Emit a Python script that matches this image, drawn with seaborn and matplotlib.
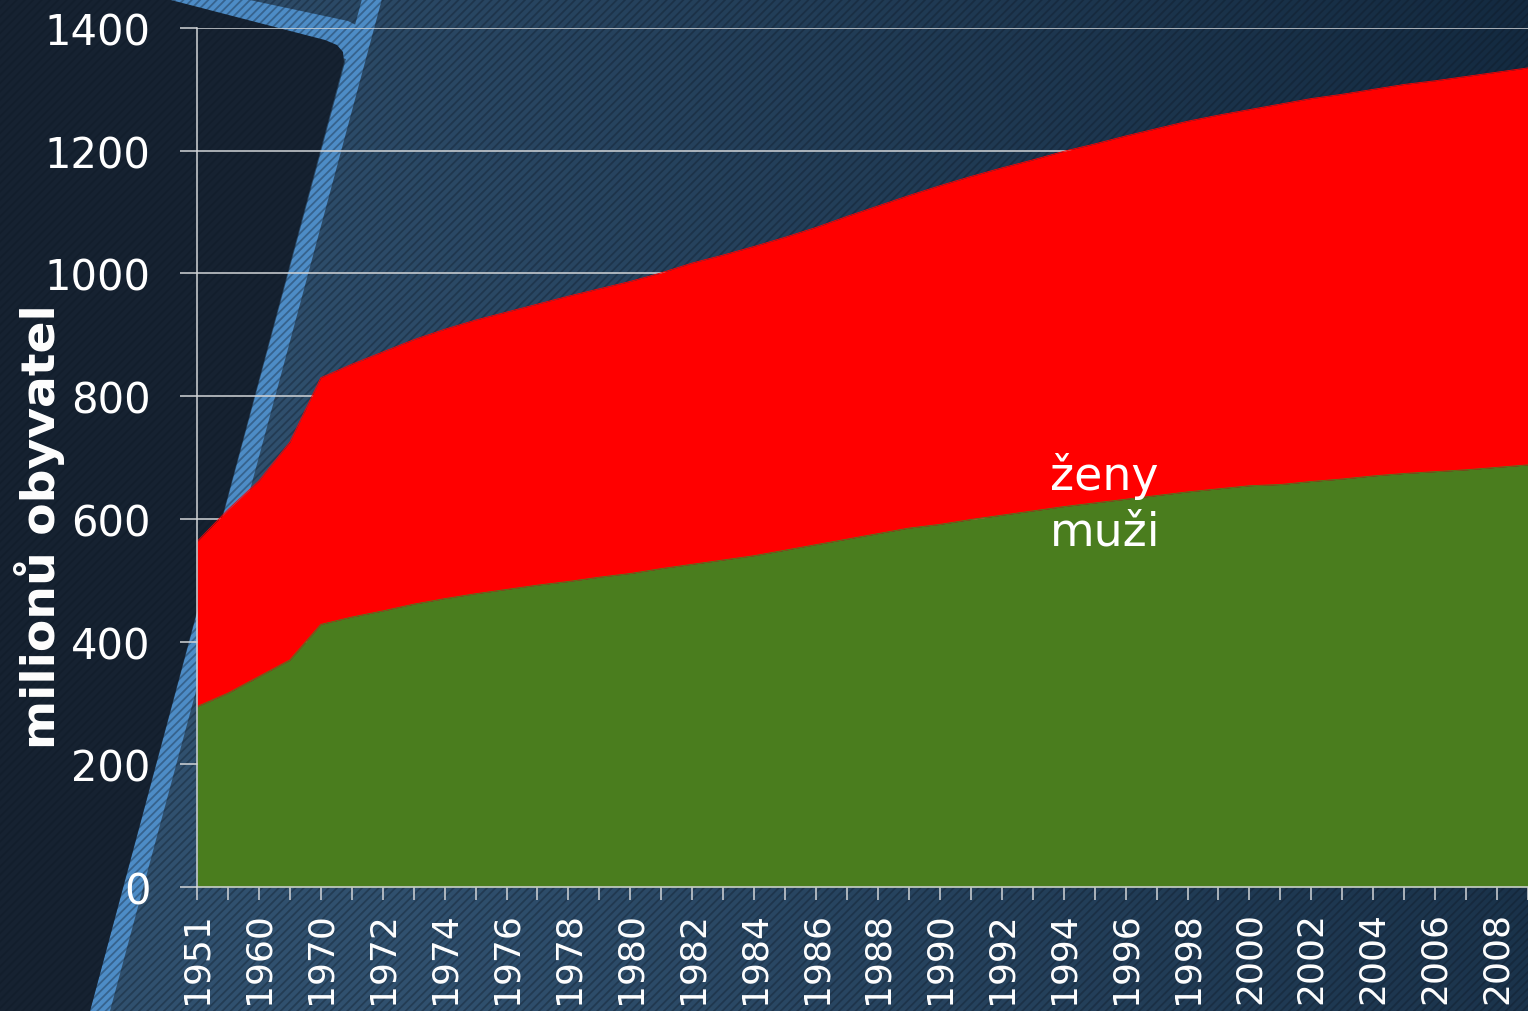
import numpy as np
import pandas as pd
import matplotlib
matplotlib.use("Agg")
import matplotlib.pyplot as plt
import matplotlib.colors as mcolors
from matplotlib.patches import Polygon, Rectangle
import seaborn as sns

# ---------------- data ----------------
years = ["1951", "1955", "1960", "1965"] + [str(y) for y in range(1970, 2010)]
male = [294, 316, 343, 370,
        428, 440, 450, 461, 470, 478, 485, 492, 498, 505,
        511, 519, 526, 533, 540, 549, 558, 567, 576, 585,
        591, 599, 606, 613, 620, 626, 632, 638, 644, 649,
        654, 656, 661, 665, 670, 674, 677, 680, 684, 688]
female = [269, 299, 319, 355,
          402, 412, 422, 431, 439, 446, 452, 458, 465, 470,
          476, 482, 491, 497, 504, 510, 517, 526, 534, 542,
          552, 559, 566, 572, 579, 585, 592, 598, 604, 609,
          613, 620, 624, 627, 630, 634, 637, 641, 644, 647]
y_ticks = [0, 200, 400, 600, 800, 1000, 1200, 1400]
series_names = ["muži", "ženy"]
y_title = "milionů obyvatel"

# ---------------- style ----------------
sns.set_style("white")
plt.rcParams['font.family'] = ['DejaVu Sans']
plt.rcParams['hatch.linewidth'] = 1.3

W, H = 1528, 1012
fig = plt.figure(figsize=(W / 100, H / 100), dpi=100)

# background decoration
bg = fig.add_axes([0, 0, 1, 1], zorder=0)
bg.set_xlim(0, W)
bg.set_ylim(H, 0)
bg.axis('off')
gx = np.linspace(0, 1, 400)
gy = np.linspace(0, 1, 300)
GX, GY = np.meshgrid(gx, gy)
t = np.clip(0.8 * (GX - 0.25) / 0.75 + 0.25 * (1 - GY) - 0.05, 0, 1)
c0 = np.array(mcolors.to_rgb("#30506e"))
c1 = np.array(mcolors.to_rgb("#142a40"))
img = c0[None, None, :] * (1 - t[..., None]) + c1[None, None, :] * t[..., None]
bg.imshow(img, extent=[0, W, H, 0], aspect='auto', zorder=0)

band_col = "#4d8cc6"
bg.add_patch(Polygon([(362, 0), (382, 0), (110, H), (90, H)], closed=True,
                     facecolor=band_col, edgecolor='none', zorder=1))
bg.add_patch(Polygon([(160, 0), (245, 0), (348, 22), (360, 28), (352, 62)], closed=True,
                     facecolor=band_col, edgecolor='none', zorder=1))
bg.add_patch(Polygon([(0, 0), (167, 0), (325, 41), (337, 46), (343, 53), (344, 63),
                      (90, H), (0, H)], closed=True,
                     facecolor="#162231", edgecolor='none', zorder=2))
bg.add_patch(Rectangle((0, 0), W, H, facecolor='none',
                       edgecolor=(0.05, 0.09, 0.14, 0.35), linewidth=0,
                       hatch='////', zorder=3))

# ---------------- main chart ----------------
ax = fig.add_axes([197 / W, (H - 888) / H, (W - 197) / W, (888 - 29) / H], zorder=1)
ax.set_facecolor('none')

x = np.arange(len(years))
total = np.array(male) + np.array(female)
df = pd.DataFrame({"x": x, "male": male, "total": total})

green = "#4a7d1e"
red = "#ff0000"
ax.fill_between(x, 0, male, color=green, linewidth=0, zorder=2)
ax.fill_between(x, male, total, color=red, linewidth=0, zorder=2)
sns.lineplot(data=df, x="x", y="male", color=green, linewidth=0.6, ax=ax, zorder=2.1)
sns.lineplot(data=df, x="x", y="total", color=red, linewidth=0.6, ax=ax, zorder=2.1)

ax.set_xlim(0, len(years) - 1)
ax.set_ylim(0, 1400)
ax.set_yticks(y_ticks)
ax.set_yticklabels([str(v) for v in y_ticks])
ax.set_xticks(x)
ax.set_xticklabels([lab if i % 2 == 0 else "" for i, lab in enumerate(years)], rotation=90)
ax.set_xlabel("")
ax.set_ylabel("")

gcol = "#d2d5d8"
ax.set_axisbelow(True)
ax.yaxis.grid(True, color=gcol, linewidth=1.1)
ax.xaxis.grid(False)
for s in ["top", "right"]:
    ax.spines[s].set_visible(False)
for s in ["left", "bottom"]:
    ax.spines[s].set_color(gcol)
    ax.spines[s].set_linewidth(1.1)
    ax.spines[s].set_zorder(3)

ax.tick_params(axis='y', direction='out', length=12.5, width=1.1, color=gcol,
               pad=21, labelsize=30, labelcolor='white', left=True)
ax.tick_params(axis='x', direction='out', length=9.5, width=1.1, color=gcol,
               pad=8, labelsize=26, labelcolor='white', bottom=True)

ax.text(27.56, 649, series_names[1], fontsize=33, color='white', va='baseline', ha='left', zorder=4)
ax.text(27.56, 559, series_names[0], fontsize=33, color='white', va='baseline', ha='left', zorder=4)

fig.text(40 / W, 1 - 527 / H, y_title, rotation=90, fontsize=34, fontweight='bold',
         color='white', ha='center', va='center')

fig.savefig("out.png", dpi=100)
